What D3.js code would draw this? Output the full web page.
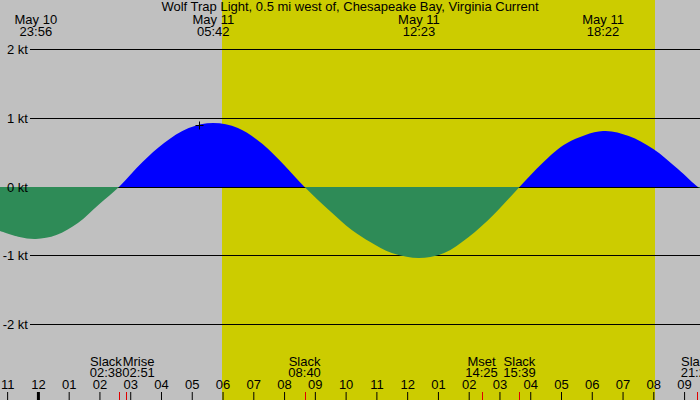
<!DOCTYPE html>
<html>
<head>
<meta charset="utf-8">
<script src="https://cdn.jsdelivr.net/npm/d3@7"></script>
<style>
  body { margin: 0; background: #c0c0c0; }
  svg { display: block; font-family: "Liberation Sans", Arial, sans-serif; font-size: 13px; }
</style>
</head>
<body>
<svg id="chart"></svg>
<script>
const title = 'Wolf Trap Light, 0.5 mi west of, Chesapeake Bay, Virginia Current';

// current in knots, hours counted from May 11 00:00 (negative = May 10)
const flowHours = [-1.232, -0.6, -0.067, 0.6, 1.3, 2.0, 2.633, 3.4, 4.1, 4.9, 5.7, 6.5, 7.3, 8.0, 8.667,
  9.49, 10.2, 10.8, 11.5, 12.383, 13.2, 14.0, 14.8, 15.65, 16.4, 17.2, 18.367, 19.2, 20.0, 20.8, 21.45, 21.517];
const flowKnots = [-0.65, -0.73, -0.76, -0.70, -0.53, -0.26, 0, 0.36, 0.63, 0.85, 0.93, 0.85, 0.62, 0.32, 0,
  -0.35, -0.63, -0.81, -0.97, -1.04, -0.96, -0.74, -0.41, 0, 0.34, 0.63, 0.81, 0.74, 0.55, 0.26, 0, -0.02];

// max flood / max ebb
const peakDays = [10, 11, 11, 11];
const peakTimes = ['23:56', '05:42', '12:23', '18:22'];

// slack and moon events, all May 11
const eventNames = ['Slack', 'Mrise', 'Slack', 'Mset', 'Slack', 'Slack'];
const eventTimes = ['02:38', '02:51', '08:40', '14:25', '15:39', '21:25'];

const sunrise = '05:59';
const sunset = '20:03';

const hourTicks = [-1, 0, 1, 2, 3, 4, 5, 6, 7, 8, 9, 10, 11, 12, 13, 14, 15, 16, 17, 18, 19, 20, 21];
const hourLabels = ['11', '12', '01', '02', '03', '04', '05', '06', '07', '08', '09', '10',
  '11', '12', '01', '02', '03', '04', '05', '06', '07', '08', '09'];

const knotTicks = [2, 1, 0, -1, -2];

const markTime = '05:15';
const markKnots = 0.9;

const toHours = (day, hhmm) => {
  const [h, m] = hhmm.split(':').map(Number);
  return (day - 11) * 24 + h + m / 60;
};

const width = 700;
const height = 400;
const margin = { left: 30 };

const svg = d3.select('#chart')
  .attr('width', width)
  .attr('height', height);

const x = d3.scaleLinear()
  .domain([flowHours[0], flowHours[flowHours.length - 1]])
  .range([0, width]);

const y = d3.scaleLinear()
  .domain([-2, 2])
  .rangeRound([324, 49]);

// background + daylight
svg.append('rect')
  .attr('width', width)
  .attr('height', height)
  .attr('fill', '#c0c0c0');

const dawn = Math.round(x(toHours(11, sunrise)));
const dusk = Math.round(x(toHours(11, sunset)));
svg.append('rect')
  .attr('x', dawn)
  .attr('y', 0)
  .attr('width', dusk - dawn)
  .attr('height', height)
  .attr('fill', '#cccc00');

// grid lines (behind the fills)
const grid = svg.append('g')
  .attr('transform', `translate(${margin.left},0)`)
  .call(d3.axisLeft(y).tickValues(knotTicks).tickFormat('').tickSize(-(width - margin.left)));
grid.select('.domain').remove();
grid.selectAll('line').attr('stroke', '#000');

// flow fills
const flow = flowHours.map((h, i) => ({ h, k: flowKnots[i] }));
const area = d3.area()
  .x(d => x(d.h))
  .y0(y(0))
  .y1(d => y(d.k))
  .curve(d3.curveCatmullRom.alpha(0.5));

const defs = svg.append('defs');
defs.append('clipPath').attr('id', 'flood')
  .append('rect').attr('x', 0).attr('y', 0).attr('width', width).attr('height', y(0));
defs.append('clipPath').attr('id', 'ebb')
  .append('rect').attr('x', 0).attr('y', y(0)).attr('width', width).attr('height', height - y(0));

svg.append('path')
  .datum(flow)
  .attr('d', area)
  .attr('fill', '#0000ff')
  .attr('clip-path', 'url(#flood)');

svg.append('path')
  .datum(flow)
  .attr('d', area)
  .attr('fill', '#2e8b57')
  .attr('clip-path', 'url(#ebb)');

// knot labels on top
const yLabels = svg.append('g')
  .attr('transform', `translate(${margin.left},0)`)
  .call(d3.axisLeft(y).tickValues(knotTicks).tickFormat(d => `${d} kt`).tickSize(0).tickPadding(2));
yLabels.select('.domain').remove();
yLabels.attr('font-size', 13).attr('font-family', null);
yLabels.selectAll('text').attr('fill', '#000');

// title
svg.append('text')
  .attr('x', width / 2)
  .attr('y', 11)
  .attr('text-anchor', 'middle')
  .text(title);

// peak labels
const peaks = peakTimes.map((t, i) => ({ h: toHours(peakDays[i], t), day: peakDays[i], t }));
const peakG = svg.append('g').selectAll('g')
  .data(peaks)
  .join('g')
  .attr('transform', d => `translate(${x(d.h)},0)`)
  .attr('text-anchor', 'middle');
peakG.append('text').attr('y', 24).text(d => `May ${d.day}`);
peakG.append('text').attr('y', 36).text(d => d.t);

// marker
svg.append('path')
  .attr('transform', `translate(${Math.round(x(toHours(11, markTime))) + 0.5},${y(markKnots) + 0.5})`)
  .attr('d', 'M-4,0H4M0,-4V4')
  .attr('stroke', '#000')
  .attr('fill', 'none');

// hour axis at the bottom
const hourAxis = svg.append('g')
  .attr('transform', `translate(0,${height})`)
  .call(d3.axisTop(x).tickValues(hourTicks).tickFormat((d, i) => hourLabels[i]).tickSize(8).tickPadding(3));
hourAxis.select('.domain').remove();
hourAxis.attr('font-size', 13).attr('font-family', null);
hourAxis.selectAll('text').attr('fill', '#000');
hourAxis.selectAll('line').attr('stroke', '#000');
hourAxis.selectAll('.tick').filter(d => d === 0).select('line').attr('stroke-width', 3);

// event ticks + labels
const events = eventTimes.map((t, i) => ({ h: toHours(11, t), name: eventNames[i], t }));

svg.append('g').selectAll('line')
  .data(events)
  .join('line')
  .attr('x1', d => Math.round(x(d.h)) + 0.5)
  .attr('x2', d => Math.round(x(d.h)) + 0.5)
  .attr('y1', height - 8)
  .attr('y2', height)
  .attr('stroke', '#e00000');

const eventG = svg.append('g').selectAll('g')
  .data(events)
  .join('g')
  .attr('text-anchor', 'middle');
eventG.append('text').attr('y', 365.5).text(d => d.name);
eventG.append('text').attr('y', 377).text(d => d.t);

// spread labels that would overlap
const boxes = eventG.nodes().map((node, i) => ({ cx: x(events[i].h), w: node.getBBox().width }));
for (let i = 1; i < boxes.length; i++) {
  const a = boxes[i - 1];
  const b = boxes[i];
  const overlap = (a.cx + a.w / 2) - (b.cx - b.w / 2);
  if (overlap > 0) {
    a.cx -= overlap / 2;
    b.cx += overlap / 2;
  }
}
eventG.attr('transform', (d, i) => `translate(${boxes[i].cx},0)`);
</script>
</body>
</html>
